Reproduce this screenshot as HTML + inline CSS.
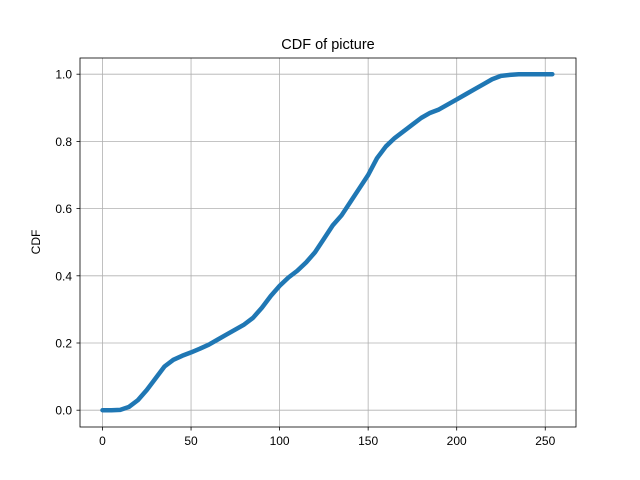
<!DOCTYPE html>
<html><head><meta charset="utf-8"><style>
body{margin:0;background:#fff}
svg{display:block;font-family:"Liberation Sans","DejaVu Sans",sans-serif}
</style></head><body>
<svg id="chart" width="640" height="480">
<rect width="640" height="480" fill="#fff"/>
<text x="328" y="49" text-anchor="middle" font-size="14.5">CDF of picture</text>
<text transform="translate(40,242) rotate(-90)" text-anchor="middle" font-size="12">CDF</text>
<g id="grid"></g><g id="ticks"></g><g id="series"></g>
<rect x="80" y="58" width="496" height="369" fill="none" stroke="#000" stroke-width="0.8"/>
</svg>
<script>
const xValues=[0,5,10,15,20,25,30,35,40,45,50,55,60,65,70,75,80,85,90,95,100,105,110,115,120,125,130,135,140,145,150,155,160,165,170,175,180,185,190,195,200,205,210,215,220,225,230,235,240,245,250,254];
const cdfValues=[0,0,0.001,0.01,0.03,0.06,0.095,0.13,0.15,0.162,0.172,0.183,0.195,0.21,0.225,0.24,0.255,0.275,0.305,0.34,0.37,0.395,0.415,0.44,0.47,0.51,0.55,0.58,0.62,0.66,0.7,0.75,0.785,0.81,0.83,0.85,0.87,0.885,0.895,0.91,0.925,0.94,0.955,0.97,0.985,0.995,0.998,1,1,1,1,1];
const xTicks=[0,50,100,150,200,250];
const yTicks=[0,0.2,0.4,0.6,0.8,1.0];
const yTickLabels=["0.0","0.2","0.4","0.6","0.8","1.0"];
const NS="http://www.w3.org/2000/svg";
const sx=v=>102.5+v*1.771;
const sy=v=>410.2-v*336;
function mk(t,a,p){const e=document.createElementNS(NS,t);for(const k in a)e.setAttribute(k,a[k]);p.appendChild(e);return e;}
const grid=document.getElementById('grid'),ticks=document.getElementById('ticks'),series=document.getElementById('series');
xTicks.forEach(v=>{const x=sx(v);
const g=mk('line',{x1:x,x2:x,y1:58,y2:427,stroke:'#b0b0b0','stroke-width':0.8},grid);


mk('line',{x1:x,x2:x,y1:427,y2:430.5,stroke:'#000','stroke-width':0.8},ticks);
const t=mk('text',{x:x,y:445,'text-anchor':'middle','font-size':12},ticks);t.textContent=v;

});
yTicks.forEach((v,i)=>{const y=sy(v);
const g=mk('line',{x1:80,x2:576,y1:y,y2:y,stroke:'#b0b0b0','stroke-width':0.8},grid);


mk('line',{x1:76.5,x2:80,y1:y,y2:y,stroke:'#000','stroke-width':0.8},ticks);
const t=mk('text',{x:72,y:y+4.5,'text-anchor':'end','font-size':12},ticks);t.textContent=yTickLabels[i];

});
const pts=xValues.map((v,i)=>sx(v)+','+sy(cdfValues[i])).join(' ');
const line=mk('polyline',{points:pts,fill:'none',stroke:'#1f77b4','stroke-width':4.5,'stroke-linejoin':'round','stroke-linecap':'round'},series);


</script>
</body></html>
